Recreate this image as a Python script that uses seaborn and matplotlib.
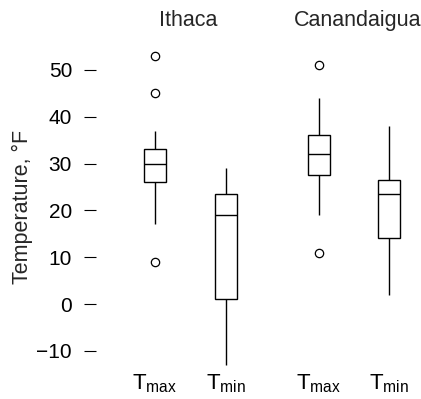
import matplotlib
matplotlib.use("Agg")
import matplotlib.pyplot as plt
import seaborn as sns
import pandas as pd

# ---- data ----
stations = ["Ithaca", "Canandaigua"]
variables = ["T$_{max}$", "T$_{min}$"]
ithaca_tmax = [9, 17, 22, 26, 28, 29, 30, 31, 32, 33, 37, 45, 53]
ithaca_tmin = [-13, -5, 1, 12, 19, 21, 23.5, 26, 29]
canandaigua_tmax = [11, 19, 27.5, 30, 32, 34, 36, 44, 51]
canandaigua_tmin = [2, 8, 14, 20, 23.5, 25, 26.5, 32, 38]
yticks = [-10, 0, 10, 20, 30, 40, 50]
ylabel = "Temperature, °F"

def frame(tmax, tmin):
    rows = [(variables[0], v) for v in tmax] + [(variables[1], v) for v in tmin]
    return pd.DataFrame(rows, columns=["var", "temp"])

dfs = [frame(ithaca_tmax, ithaca_tmin), frame(canandaigua_tmax, canandaigua_tmin)]

sns.set_style("white")
plt.rcParams["font.family"] = ["Liberation Sans", "DejaVu Sans"]
plt.rcParams["mathtext.default"] = "regular"

W, H = 421, 399
fig = plt.figure(figsize=(W / 100, H / 100), dpi=100)
top_px, bot_px = 30, 372
ax1 = fig.add_axes([96 / W, (H - bot_px) / H, (262 - 96) / W, (bot_px - top_px) / H])
ax2 = fig.add_axes([280 / W, (H - bot_px) / H, (421 - 280) / W, (bot_px - top_px) / H])

flier = dict(marker="o", markerfacecolor="none", markeredgecolor="black",
             markersize=6, markeredgewidth=0.9)
for ax, df in zip([ax1, ax2], dfs):
    sns.boxplot(data=df, x="var", y="temp", order=variables, ax=ax,
                color="white", linecolor="black", linewidth=1.0, width=0.31,
                showcaps=False, whis=1.5, flierprops=flier)
    ax.set_xlabel("")
    ax.set_ylabel("")
    ax.set_ylim(-14.5, 58.5)
    ax.set_yticks(yticks)
    for s in ax.spines.values():
        s.set_visible(False)
    ax.tick_params(axis="x", length=0, pad=0, labelsize=16, colors="black")

ax1.set_xlim(-0.831, 1.507)
ax2.set_xlim(-0.557, 1.457)
ax1.set_yticklabels([f"{t:g}".replace("-", "\u2212") for t in yticks])
ax1.tick_params(axis="y", left=True, length=8.6, width=0.8, pad=8.6,
                labelsize=15, colors="black", direction="out")
ax2.tick_params(axis="y", left=False, labelleft=False)

fig.text(188 / W, 1 - 26 / H, stations[0], ha="center", va="baseline", fontsize=15.5)
fig.text(358 / W, 1 - 26 / H, stations[1], ha="center", va="baseline", fontsize=15.5)
fig.text(22 / W, 1 - 207 / H, ylabel, rotation=90, ha="center", va="center", fontsize=15.5)

fig.savefig("out.png", dpi=100)
